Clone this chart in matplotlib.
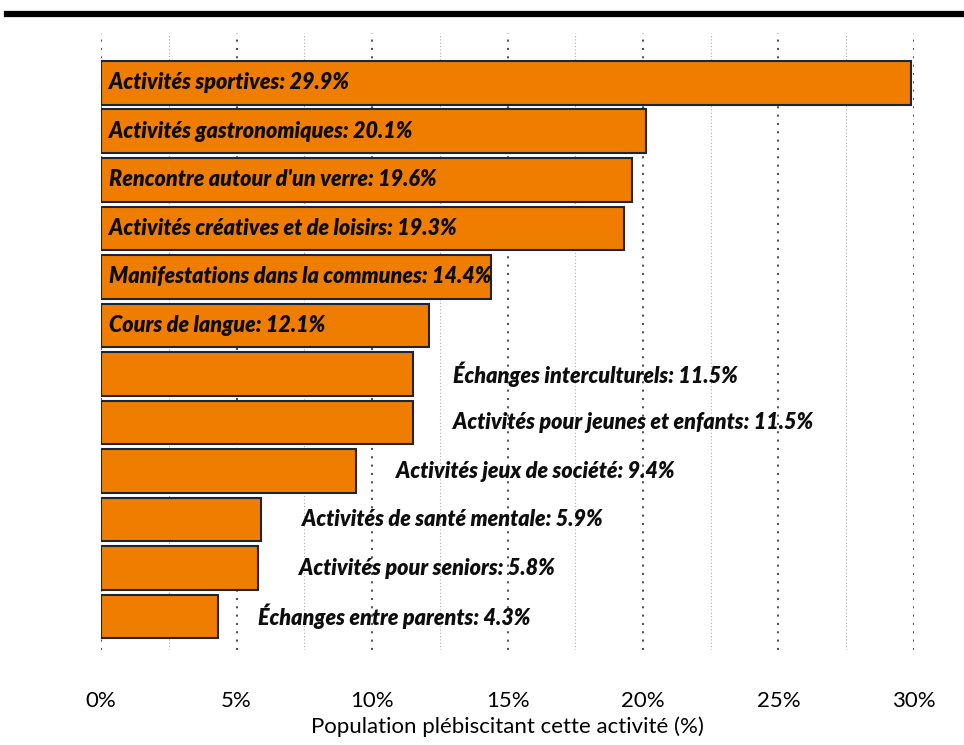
import matplotlib.pyplot as plt
from matplotlib.lines import Line2D
from matplotlib.ticker import MultipleLocator

activites = [
    "Activités sportives",
    "Activités gastronomiques",
    "Rencontre autour d'un verre",
    "Activités créatives et de loisirs",
    "Manifestations dans la communes",
    "Cours de langue",
    "Échanges interculturels",
    "Activités pour jeunes et enfants",
    "Activités jeux de société",
    "Activités de santé mentale",
    "Activités pour seniors",
    "Échanges entre parents",
]
pourcentages = [29.9, 20.1, 19.6, 19.3, 14.4, 12.1, 11.5, 11.5, 9.4, 5.9, 5.8, 4.3]
ticks = [0, 5, 10, 15, 20, 25, 30]

plt.rcParams['font.family'] = ['Lato', 'DejaVu Sans']

fig = plt.figure(figsize=(9.64, 7.45), dpi=100)
ax = fig.add_axes([0.105, 0.128, 0.843, 0.828])

y = list(range(len(activites)))
ax.barh(y, pourcentages, height=0.9, color='#EF7D00', edgecolor='#1c2533', linewidth=1.5, zorder=3)

for i, (nom, v) in enumerate(zip(activites, pourcentages)):
    txt = f"{nom}: {v}%"
    x = 0.3 if v >= 12 else v + 1.5
    ax.text(x, i, txt, va='center', ha='left', fontsize=15.5,
            fontweight='heavy', fontstyle='italic', color='#0d0d0d', zorder=4)

ax.set_ylim(len(activites) - 1 + 0.68, -1.03)
ax.set_xlim(0, 30)
ax.set_yticks([])
ax.set_xticks(ticks)
ax.set_xticklabels([f"{t}%" for t in ticks], fontsize=16)
ax.xaxis.set_minor_locator(MultipleLocator(2.5))
ax.tick_params(axis='x', which='both', length=0, pad=30)
ax.set_axisbelow(True)
ax.grid(axis='x', which='major', color='#555555', linestyle=(0, (1, 3)), linewidth=1.5)
ax.grid(axis='x', which='minor', color='#aaaaaa', linestyle=(0, (1, 2)), linewidth=0.8)
for s in ax.spines.values():
    s.set_visible(False)

ax.set_xlabel("Population plébiscitant cette activité (%)", fontsize=16, labelpad=4)

fig.add_artist(Line2D([0.007, 1.0], [0.981, 0.981], color='black', linewidth=4.5))

fig.savefig('out.png', dpi=100)
